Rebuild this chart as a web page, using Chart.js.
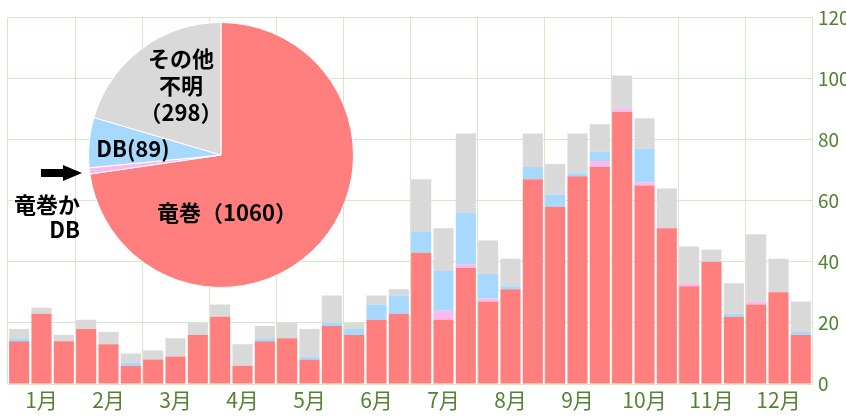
<!DOCTYPE html>
<html>
<head>
<meta charset="utf-8">
<script src="https://cdn.jsdelivr.net/npm/chart.js@4"></script>
<style>
  html, body { margin: 0; padding: 0; background: #fff; overflow: hidden; }
  #wrap { position: relative; width: 846px; height: 418px; }
  #wrap canvas { position: absolute; left: 0; top: 0; }
</style>
</head>
<body>
<div id="wrap">
  <canvas id="barChart" width="846" height="418"></canvas>
  <canvas id="pieChart" width="846" height="418"></canvas>
</div>
<script>
// months and the three ten-day periods in each
const months = ['1月', '2月', '3月', '4月', '5月', '6月', '7月', '8月', '9月', '10月', '11月', '12月'];
const periods = ['上旬', '中旬', '下旬'];

// counts per period (stacked: 竜巻 / 竜巻かDB / DB / その他不明)
const tornado = [14, 23, 14, 18, 13, 6, 8, 9, 16, 22, 6, 14, 15, 8, 19, 16, 21, 23,
                 43, 21, 38, 27, 31, 67, 58, 68, 71, 89, 65, 51, 32, 40, 22, 26, 30, 16];
const tornadoOrDb = [0, 0, 0, 0, 0, 0, 0, 0, 0, 0, 0, 0, 0, 0, 0, 0, 0, 0,
                     0, 3, 1, 1, 0, 0, 0, 0, 2, 1, 1, 0, 1, 0, 0, 1, 0, 0];
const downburst = [1, 0, 0, 0, 0, 1, 0, 0, 0, 0, 0, 1, 0, 1, 1, 2, 5, 6,
                   7, 13, 17, 8, 1, 4, 4, 1, 3, 0, 11, 0, 0, 0, 1, 0, 0, 1];
const other = [3, 2, 2, 3, 4, 3, 3, 6, 4, 4, 7, 4, 5, 9, 9, 2, 3, 2,
               17, 14, 26, 11, 9, 11, 10, 13, 9, 11, 10, 13, 12, 4, 10, 22, 11, 10];

// pie totals (same order as the stack)
const pieValues = [1060, 11, 89, 298];
const yTicks = [0, 20, 40, 60, 80, 100, 120];

const colors = ['#FF7F7F', '#FFB8EE', '#A7D8FD', '#D9D9D9'];
const tickColor = '#548235';
const gridColor = '#D6E8CA';
const fontFamily = '"Noto Sans CJK JP", "Noto Sans", sans-serif';

const categories = [];
months.forEach(m => periods.forEach(p => categories.push(m + p)));

new Chart(document.getElementById('barChart'), {
    type: 'bar',
    data: {
        labels: categories,
        datasets: [
            { label: '竜巻', data: tornado, backgroundColor: colors[0] },
            { label: '竜巻かDB', data: tornadoOrDb, backgroundColor: colors[1] },
            { label: 'DB', data: downburst, backgroundColor: colors[2] },
            { label: 'その他不明', data: other, backgroundColor: colors[3] }
        ]
    },
    options: {
        responsive: false,
        animation: false,
        layout: { padding: { left: 8, top: 17 } },
        datasets: { bar: { categoryPercentage: 1, barPercentage: 0.9 } },
        plugins: { legend: { display: false }, tooltip: { enabled: false } },
        scales: {
            x: {
                stacked: true,
                grid: {
                    offset: true,
                    drawTicks: false,
                    color: c => (c.index !== undefined && c.index % 3 === 0) ? gridColor : 'rgba(0,0,0,0)'
                },
                border: { display: false },
                ticks: {
                    autoSkip: false,
                    maxRotation: 0,
                    padding: 3,
                    color: tickColor,
                    font: { family: fontFamily, size: 21 },
                    callback: (v, i) => i % 3 === 1 ? months[Math.floor(i / 3)] : ''
                },
                afterFit: s => { s.height = 34; }
            },
            y: {
                stacked: true,
                position: 'right',
                min: 0,
                max: 120,
                afterBuildTicks: s => { s.ticks = yTicks.map(v => ({ value: v })); },
                grid: { color: gridColor, drawTicks: false },
                border: { display: true, color: gridColor },
                ticks: {
                    padding: 6,
                    color: tickColor,
                    font: { family: fontFamily, size: 19 }
                },
                afterFit: s => { s.width = 34; }
            }
        }
    }
});

// labels and arrow on the pie
const pieLabels = [
    { lines: ['その他', '不明', '（298）'], x: 181, y: [59, 86, 113], align: 'center' },
    { lines: ['DB(89)'], x: 133, y: [149], align: 'center' },
    { lines: ['竜巻（1060）'], x: 227, y: [213], align: 'center' },
    { lines: ['竜巻か', 'DB'], x: 80, y: [205, 230], align: 'right' }
];

const pieText = {
    id: 'pieText',
    afterDraw(chart) {
        const ctx = chart.ctx;
        ctx.save();
        ctx.fillStyle = '#000';
        ctx.font = 'bold 22px ' + fontFamily;
        ctx.textBaseline = 'middle';
        pieLabels.forEach(l => {
            ctx.textAlign = l.align;
            l.lines.forEach((t, i) => ctx.fillText(t, l.x, l.y[i]));
        });
        // arrow pointing at the thin 竜巻かDB slice
        ctx.beginPath();
        ctx.moveTo(41, 169);
        ctx.lineTo(63, 169);
        ctx.lineTo(63, 165);
        ctx.lineTo(82, 173);
        ctx.lineTo(63, 181);
        ctx.lineTo(63, 177);
        ctx.lineTo(41, 177);
        ctx.closePath();
        ctx.fill();
        ctx.restore();
    }
};

new Chart(document.getElementById('pieChart'), {
    type: 'pie',
    data: {
        labels: ['竜巻', '竜巻かDB', 'DB', 'その他不明'],
        datasets: [{
            data: pieValues,
            backgroundColor: colors,
            borderColor: '#fff',
            borderWidth: 1
        }]
    },
    options: {
        responsive: false,
        animation: false,
        layout: { padding: { left: 88, right: 492, top: 22, bottom: 130 } },
        plugins: { legend: { display: false }, tooltip: { enabled: false } }
    },
    plugins: [pieText]
});
</script>
</body>
</html>
